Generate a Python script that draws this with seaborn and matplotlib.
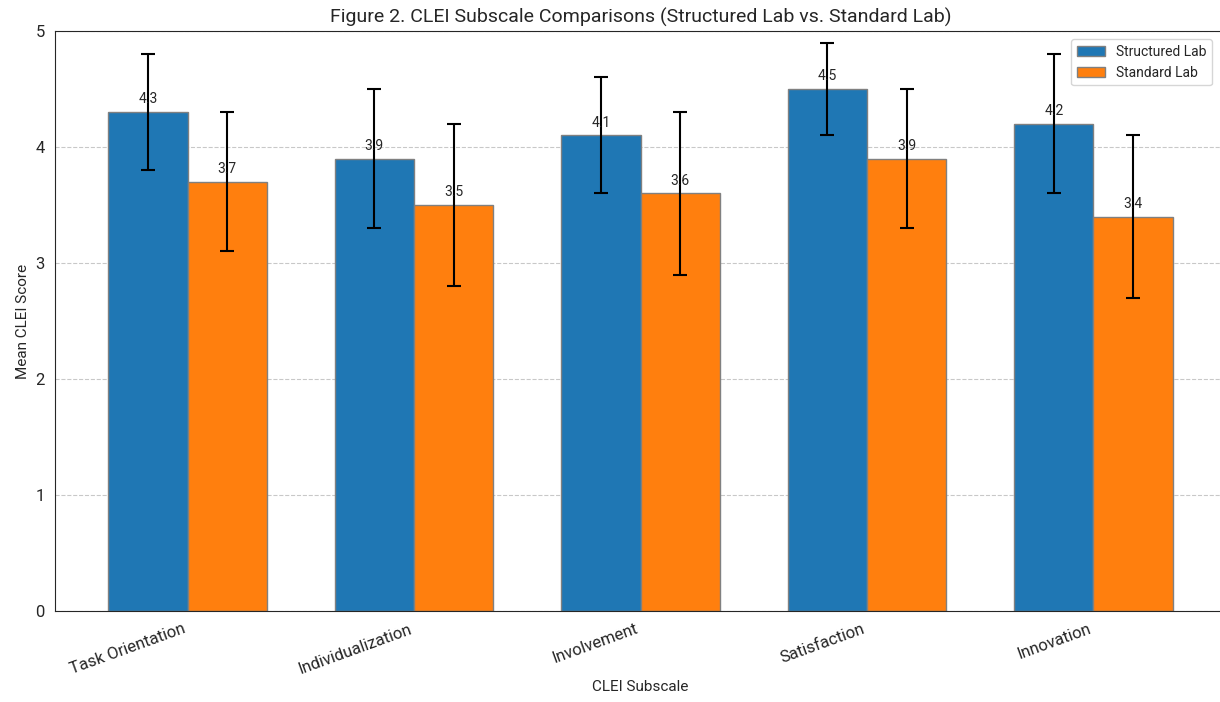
import pandas as pd
import seaborn as sns
import matplotlib.pyplot as plt

# datos de las subescalas CLEI
subescalas = ['Task Orientation', 'Individualization', 'Involvement', 'Satisfaction', 'Innovation']
media_structured = [4.3, 3.9, 4.1, 4.5, 4.2]
media_standard = [3.7, 3.5, 3.6, 3.9, 3.4]
sd_structured = [0.5, 0.6, 0.5, 0.4, 0.6]
sd_standard = [0.6, 0.7, 0.7, 0.6, 0.7]
grupos = ['Structured Lab', 'Standard Lab']

df = pd.DataFrame({
    'subescala': subescalas * 2,
    'grupo': [grupos[0]] * 5 + [grupos[1]] * 5,
    'media': media_structured + media_standard,
    'sd': sd_structured + sd_standard,
})

sns.set_style('white')
plt.rcParams['font.family'] = ['Roboto', 'DejaVu Sans']

fig, ax = plt.subplots(figsize=(12.2, 7.02), dpi=100)
# el original esta recortado a la derecha, el eje se sale un poco
fig.subplots_adjust(left=55 / 1220, right=1226 / 1220, top=1 - 31 / 702, bottom=1 - 611 / 702)
sns.barplot(data=df, x='subescala', y='media', hue='grupo', order=subescalas,
            hue_order=grupos, palette=['#1f77b4', '#ff7f0e'], width=0.7,
            gap=0, errorbar=None, saturation=1, edgecolor='grey',
            linewidth=1, ax=ax)

# barras de error y etiquetas encima de cada barra
for cont, g in zip(ax.containers, grupos):
    sub = df[df['grupo'] == g].set_index('subescala').loc[subescalas]
    for bar, m, s in zip(cont, sub['media'], sub['sd']):
        xc = bar.get_x() + bar.get_width() / 2
        ax.errorbar(xc, m, yerr=s, fmt='none', ecolor='black', capsize=5, elinewidth=1.5, capthick=1.5)
        ax.text(xc, m + 0.05, f'{m:.1f}', ha='center', va='bottom', fontsize=10)

ax.set_ylim(0, 5)
ax.set_title('Figure 2. CLEI Subscale Comparisons (Structured Lab vs. Standard Lab)', fontsize=14)
ax.set_xlabel('CLEI Subscale', fontsize=11, labelpad=2)
ax.set_ylabel('Mean CLEI Score', fontsize=11)
ax.tick_params(axis='both', labelsize=12, length=4)
plt.setp(ax.get_xticklabels(), rotation=20, ha='right')
ax.yaxis.grid(True, linestyle='--', color='#bbbbbb', alpha=0.8)
ax.set_axisbelow(True)
ax.legend(loc='upper right', bbox_to_anchor=((1220 - 55) / 1171, 1), borderaxespad=0.6, fontsize=10)
plt.savefig('out.png', dpi=100)
